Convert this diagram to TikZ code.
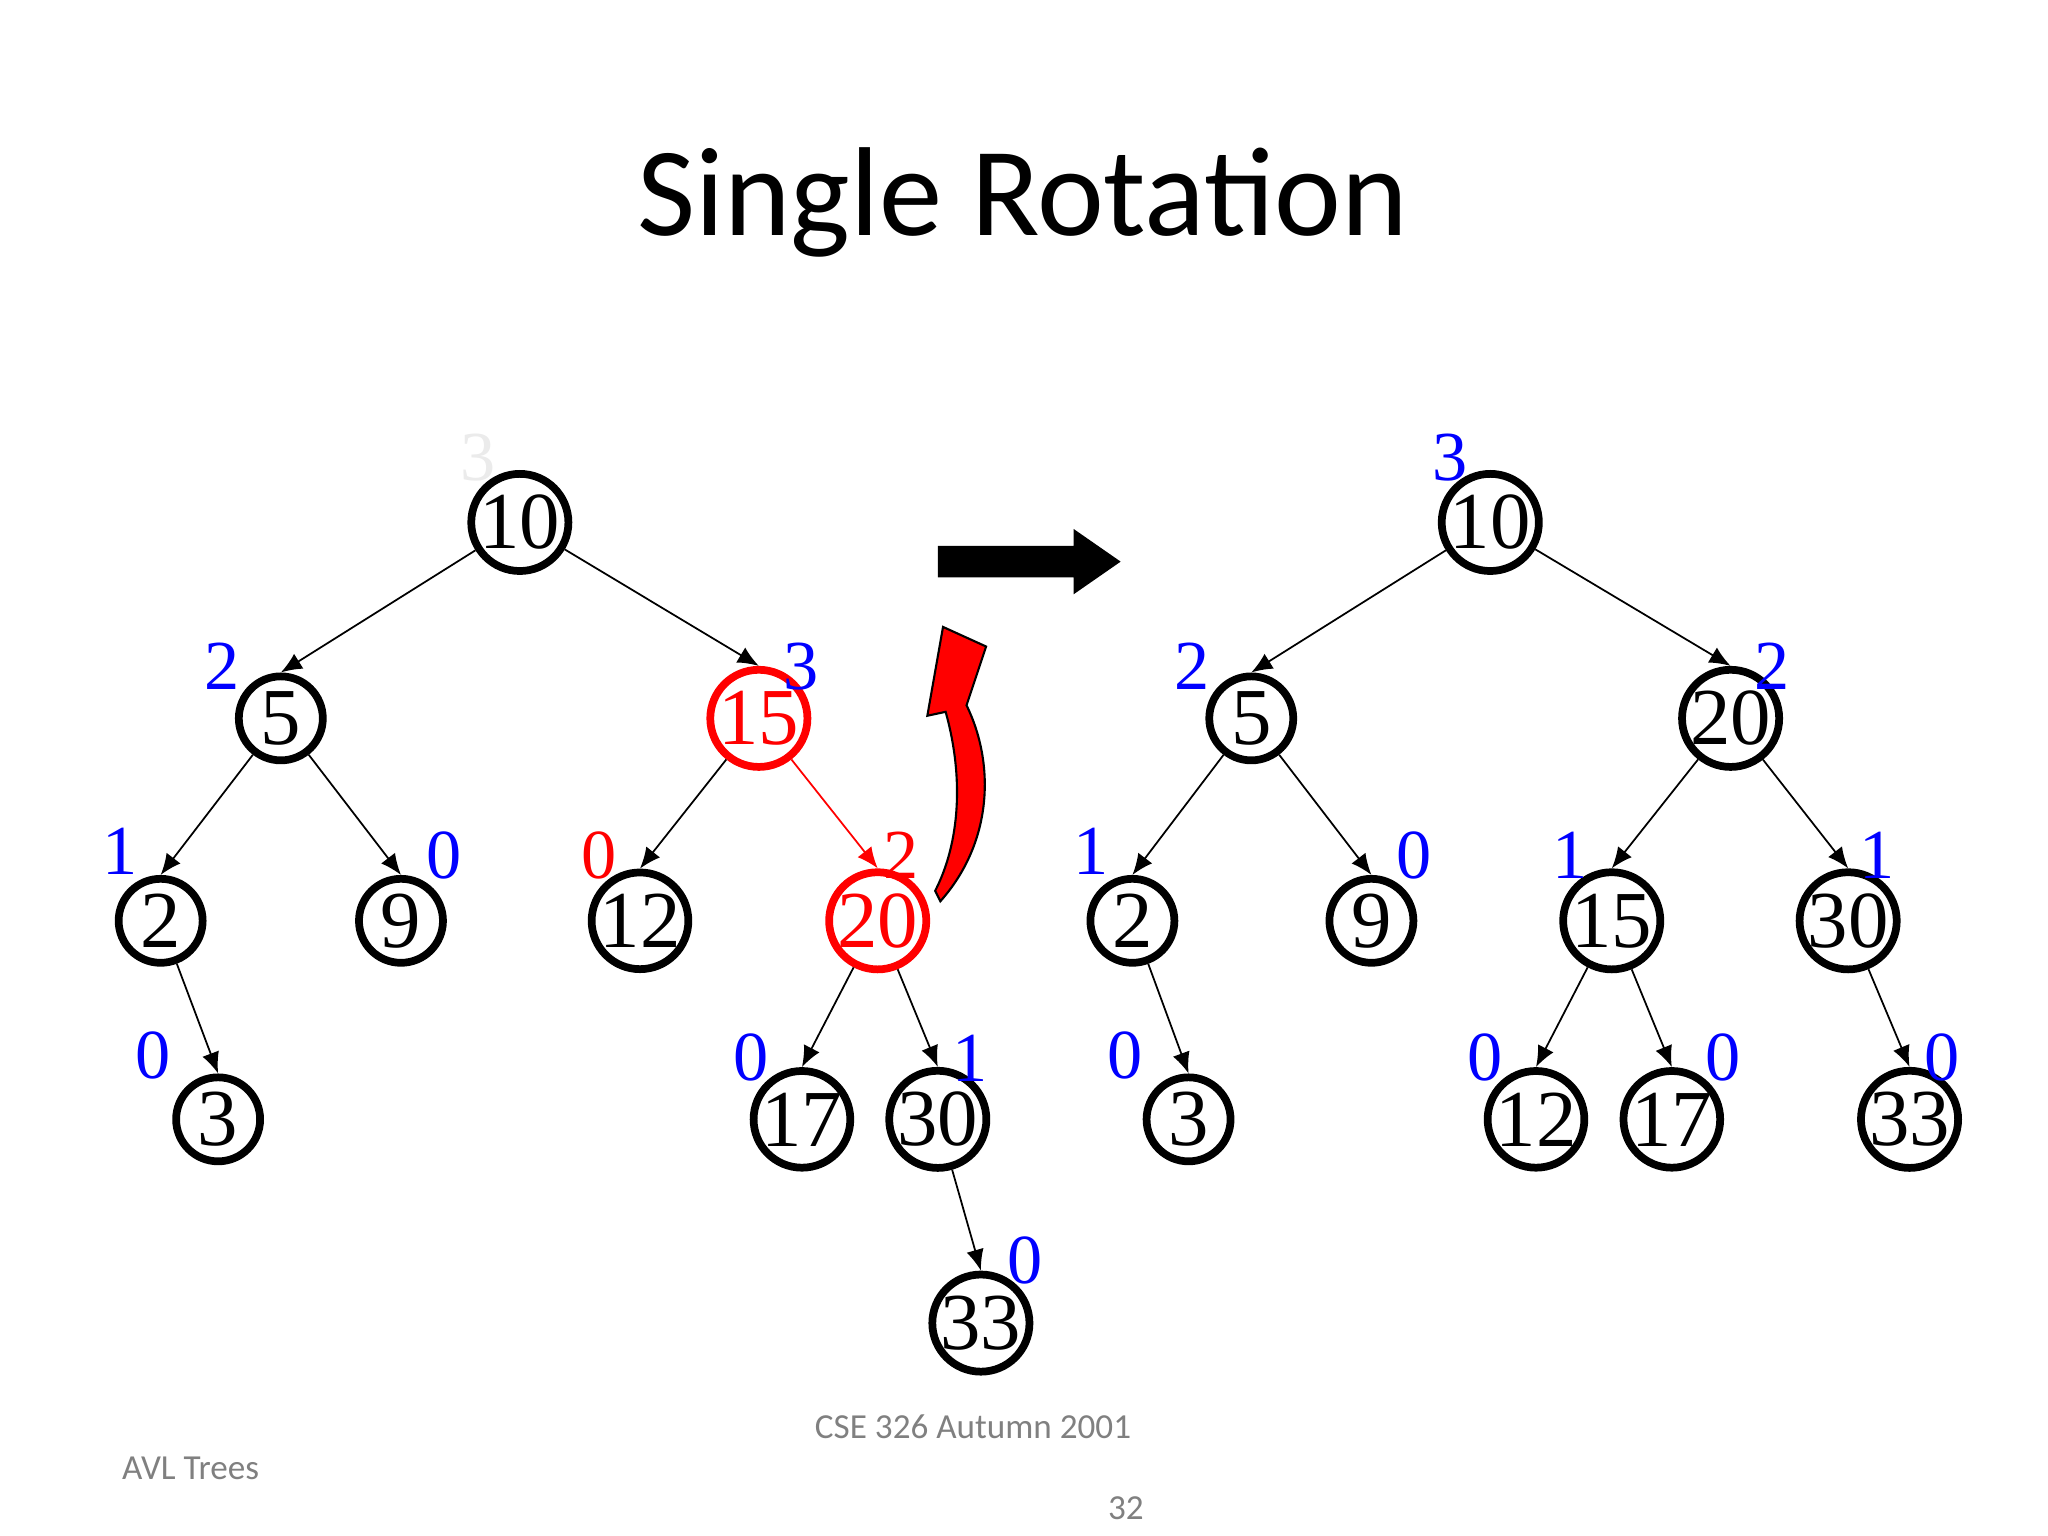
\documentclass[tikz,border=0pt]{standalone}
\usepackage{fontspec}
\setmainfont{Liberation Serif}
\newfontfamily\carl{Carlito}
\begin{document}
\begin{tikzpicture}[x=0.013061cm,y=-0.013061cm,
  nd/.style={circle,draw=black,line width=2.2pt,minimum size=0.84cm,inner sep=0pt,font=\fontsize{23}{23}\selectfont},
  rn/.style={nd,draw=red,text=red},
  lb/.style={text=blue,font=\fontsize{20}{20}\selectfont,inner sep=0pt},
  rl/.style={lb,text=red},
  e/.style={-{Latex[length=6pt,width=5pt]},line width=0.5pt},
  ft/.style={text=gray,font=\carl\fontsize{10}{10}\selectfont}]
\usetikzlibrary{arrows.meta}
\useasboundingbox (0,0) rectangle (1568,1176);
\node[font=\carl\fontsize{36}{36}\selectfont] (title) at (783,155) {Single Rotation};
% left tree
\node[nd] (a10) at (398,400) {10};
\node[nd] (a5) at (215,550) {5};
\node[rn] (a15) at (581,550) {15};
\node[nd] (a2) at (123,705) {2};
\node[nd] (a9) at (307,705) {9};
\node[nd] (a12) at (490,705) {12};
\node[rn] (a20) at (672,705) {20};
\node[nd] (a3) at (167,857) {3};
\node[nd] (a17) at (614,857) {17};
\node[nd] (a30) at (718,857) {30};
\node[nd] (a33) at (751,1013) {33};
\draw[e] (a10)--(a5.north); \draw[e] (a10)--(a15.north);
\draw[e] (a5)--(a2.north); \draw[e] (a5)--(a9.north);
\draw[e] (a15)--(a12.north); \draw[e,red] (a15)--(a20.north);
\draw[e] (a2)--(a3.north); \draw[e] (a20)--(a17.north); \draw[e] (a20)--(a30.north);
\draw[e] (a30)--(a33.north);
\node[lb,text=black!8] (la10) at (366,350) {3};
\node[lb] (la5) at (170,510) {2};
\node[lb] (la15) at (613,510) {3};
\node[lb] (la2) at (92,652) {1};
\node[lb] (la9) at (340,655) {0};
\node[rl] (la12) at (459,655) {0};
\node[rl] (la20) at (690,655) {2};
\node[lb] (la3) at (117,808) {0};
\node[lb] (la17) at (575,810) {0};
\node[lb] (la30) at (743,810) {1};
\node[lb] (la33) at (785,965) {0};
% right tree
\node[nd] (b10) at (1141,400) {10};
\node[nd] (b5) at (958,550) {5};
\node[nd] (b20) at (1325,550) {20};
\node[nd] (b2) at (867,705) {2};
\node[nd] (b9) at (1050,705) {9};
\node[nd] (b15) at (1234,705) {15};
\node[nd] (b30) at (1415,705) {30};
\node[nd] (b3) at (910,857) {3};
\node[nd] (b12) at (1176,857) {12};
\node[nd] (b17) at (1280,857) {17};
\node[nd] (b33) at (1462,857) {33};
\draw[e] (b10)--(b5.north); \draw[e] (b10)--(b20.north);
\draw[e] (b5)--(b2.north); \draw[e] (b5)--(b9.north);
\draw[e] (b20)--(b15.north); \draw[e] (b20)--(b30.north);
\draw[e] (b2)--(b3.north); \draw[e] (b15)--(b12.north); \draw[e] (b15)--(b17.north);
\draw[e] (b30)--(b33.north);
\node[lb] (lb10) at (1110,350) {3};
\node[lb] (lb5) at (913,510) {2};
\node[lb] (lb20) at (1357,510) {2};
\node[lb] (lb2) at (835,652) {1};
\node[lb] (lb9) at (1083,655) {0};
\node[lb] (lb15) at (1202,655) {1};
\node[lb] (lb30) at (1437,655) {1};
\node[lb] (lb3) at (861,808) {0};
\node[lb] (lb12) at (1137,810) {0};
\node[lb] (lb17) at (1319,810) {0};
\node[lb] (lb33) at (1487,810) {0};
% arrows
\fill (718,418) -- (822,418) -- (822,405) -- (858,430) -- (822,455) -- (822,442) -- (718,442) -- cycle;
\filldraw[fill=red,draw=black,line width=0.6pt] (720,690) .. controls (760,645) and (762,585) .. (740,540) -- (755,495) -- (722,480) -- (710,548) -- (724,545) .. controls (738,595) and (735,645) .. (716,682) -- cycle;
% footer
\node[ft] (f1) at (745,1092) {CSE 326 Autumn 2001};
\node[ft] (f2) at (146,1124) {AVL Trees};
\node[ft] (f3) at (862,1155) {32};
\end{tikzpicture}
\end{document}
